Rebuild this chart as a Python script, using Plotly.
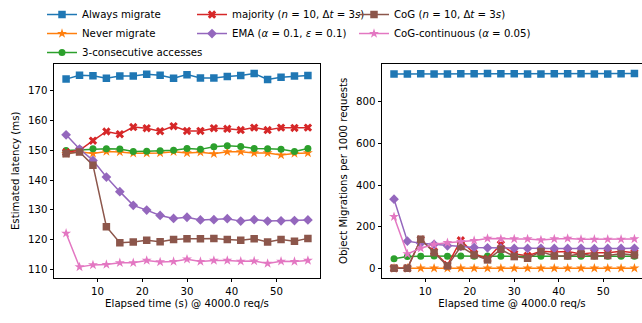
import plotly.graph_objects as go

# ---------------- data ----------------
elapsed = [3, 6, 9, 12, 15, 18, 21, 24, 27, 30, 33, 36, 39, 42, 45, 48, 51, 54, 57]

names = [
    "Always migrate",
    "Never migrate",
    "3-consecutive accesses",
    "majority (<i>n</i> = 10, Δ<i>t</i> = 3<i>s</i>)",
    "EMA (<i>α</i> = 0.1, <i>ε</i> = 0.1)",
    "CoG (<i>n</i> = 10, Δ<i>t</i> = 3<i>s</i>)",
    "CoG-continuous (<i>α</i> = 0.05)",
]

latency_always = [173.9, 175.2, 175.0, 174.2, 174.9, 174.9, 175.5, 175.2, 174.2, 175.4,
                  174.3, 174.3, 174.8, 175.1, 175.8, 173.8, 174.5, 174.9, 175.1]
latency_never = [148.9, 149.5, 148.9, 149.6, 149.4, 149.0, 149.0, 149.1, 149.5, 149.1,
                 149.3, 148.8, 149.5, 149.5, 149.1, 149.1, 148.4, 148.9, 149.1]
latency_consec = [149.9, 150.1, 150.5, 150.5, 150.4, 149.6, 149.7, 149.8, 150.0, 150.6,
                  150.3, 151.2, 151.5, 151.3, 150.6, 150.5, 150.3, 149.6, 150.6]
latency_majority = [149.3, 150.0, 153.2, 156.3, 155.4, 157.8, 157.4, 156.4, 158.1, 156.5,
                    156.5, 157.4, 157.2, 156.8, 157.6, 156.8, 157.6, 157.5, 157.6]
latency_ema = [155.2, 150.4, 146.6, 141.0, 136.1, 131.5, 129.9, 128.1, 127.1, 127.5,
               126.6, 126.7, 127.0, 126.2, 126.7, 126.2, 126.3, 126.4, 126.6]
latency_cog = [148.8, 149.4, 145.0, 124.3, 118.9, 119.2, 119.8, 119.3, 120.0, 120.3,
               120.3, 120.4, 120.0, 119.8, 120.3, 119.2, 120.0, 119.4, 120.4]
latency_cogc = [122.1, 110.8, 111.5, 111.6, 112.2, 112.2, 113.0, 112.5, 112.6, 113.4,
                112.6, 113.0, 113.0, 112.7, 112.8, 112.0, 112.7, 112.6, 113.0]

migr_always = [934, 934, 935, 934, 934, 935, 935, 936, 935, 935,
               934, 934, 935, 935, 935, 934, 934, 935, 936]
migr_never = [0] * 19
migr_consec = [46, 56, 58, 59, 58, 59, 58, 59, 58, 58, 58, 58, 59, 58, 58, 59, 58, 58, 58]
migr_majority = [0, 0, 138, 80, 15, 134, 70, 45, 115, 69, 60, 82, 78, 80, 69, 75, 75, 82, 74]
migr_ema = [332, 130, 120, 115, 108, 105, 100, 98, 97, 95, 95, 96, 95, 95, 96, 94, 95, 95, 96]
migr_cog = [0, 0, 139, 75, 11, 104, 64, 40, 91, 56, 48, 80, 59, 59, 69, 59, 61, 69, 64]
migr_cogc = [248, 69, 96, 115, 123, 128, 133, 143, 141, 141, 141, 136, 141, 143, 139, 139, 139, 139, 141]

latency_series = [latency_always, latency_never, latency_consec, latency_majority,
                  latency_ema, latency_cog, latency_cogc]
migr_series = [migr_always, migr_never, migr_consec, migr_majority,
               migr_ema, migr_cog, migr_cogc]

# ---------------- styles ----------------
colors = ["#1f77b4", "#ff7f0e", "#2ca02c", "#d62728", "#9467bd", "#8c564b", "#e377c2"]
symbols = ["square", "star", "circle", "x", "diamond", "square", "star"]
msizes = [7.5, 7.5, 7, 7.5, 7.5, 7.5, 7.5]
legend_of = ["legend", "legend", "legend", "legend2", "legend2", "legend3", "legend3"]

W, H = 642, 323
FONT = "DejaVu Sans"
FS = 10.2

fig = go.Figure()
for i in range(7):
    common = dict(
        mode="lines+markers",
        line=dict(color=colors[i], width=1.5),
        marker=dict(symbol=symbols[i], size=msizes[i], color=colors[i], line=dict(width=0)),
        name=names[i],
        legendgroup=str(i),
        legend=legend_of[i],
    )
    fig.add_trace(go.Scatter(x=elapsed, y=latency_series[i], xaxis="x", yaxis="y",
                             showlegend=True, **common))
    fig.add_trace(go.Scatter(x=elapsed, y=migr_series[i], xaxis="x2", yaxis="y2",
                             showlegend=False, **common))

ytop, ybot = 62, 277.7
ydom = [(H - ybot) / H, (H - ytop) / H]

axis_common = dict(
    showline=True, linecolor="black", linewidth=1,
    ticks="outside", ticklen=3.5, tickwidth=1, tickcolor="black",
    showgrid=False, zeroline=False,
    tickfont=dict(family=FONT, size=FS, color="black"),
    title_font=dict(family=FONT, size=FS, color="black"),
)

legend_common = dict(
    orientation="v", yanchor="top", y=1 + 2 / H, xanchor="left",
    bgcolor="rgba(0,0,0,0)", font=dict(family=FONT, size=FS, color="black"),
    tracegroupgap=0, itemwidth=30,
)

fig.update_layout(
    width=W, height=H,
    margin=dict(l=0, r=0, t=0, b=0),
    paper_bgcolor="white", plot_bgcolor="white",
    font=dict(family=FONT, size=FS, color="black"),
    xaxis=dict(domain=[54 / W, 320 / W], range=[0.3, 59.7], tickvals=[10, 20, 30, 40, 50],
               mirror=True, anchor="y",
               title=dict(text="Elapsed time (s) @ 4000.0 req/s", standoff=4), **axis_common),
    yaxis=dict(domain=ydom, range=[107.1, 179.1], tickvals=[110, 120, 130, 140, 150, 160, 170],
               mirror=True, anchor="x",
               title=dict(text="Estimated latency (ms)", standoff=6), **axis_common),
    xaxis2=dict(domain=[382 / W, 1.0], range=[0.3, 58.7], tickvals=[10, 20, 30, 40, 50],
                mirror=True, anchor="y2",
                title=dict(text="Elapsed time @ 4000.0 req/s", standoff=4), **axis_common),
    yaxis2=dict(domain=ydom, range=[-46.9, 983.9], tickvals=[0, 200, 400, 600, 800],
                mirror=False, anchor="x2",
                title=dict(text="Object Migrations per 1000 requests", standoff=6), **axis_common),
    legend=dict(x=42 / W, **legend_common),
    legend2=dict(x=192 / W, **legend_common),
    legend3=dict(x=354 / W, **legend_common),
)

fig.write_html("out.html")
